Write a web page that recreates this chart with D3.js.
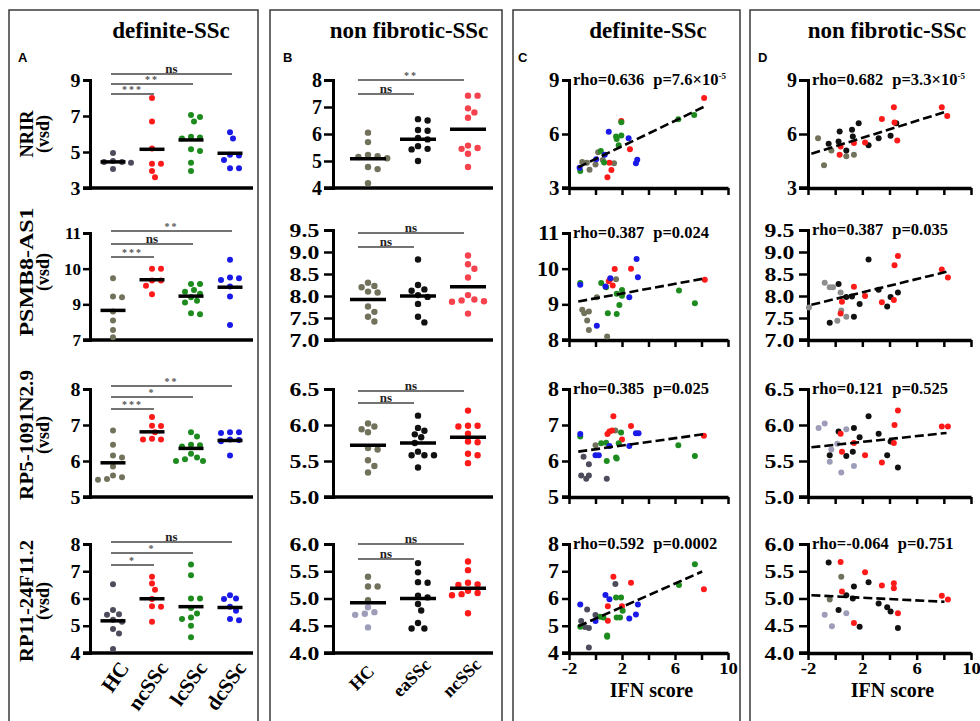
<!DOCTYPE html>
<html>
<head>
<meta charset="utf-8">
<script src="https://cdn.jsdelivr.net/npm/d3@7"></script>
<style>
  body { margin: 0; background: #fff; }
  text { font-family: "Liberation Serif", "Times New Roman", serif; font-weight: bold; }
</style>
</head>
<body>
<div id="chart"></div>
<script>
// ---- data ----
const genes = ["NRIR", "PSMB8-AS1", "RP5-1091N2.9", "RP11-24F11.2"];
const groupsA = ["HC", "ncSSc", "lcSSc", "dcSSc"];
const groupsB = ["HC", "eaSSc", "ncSSc"];

// panel A, values per group [HC, ncSSc, lcSSc, dcSSc]
const aNRIR = [[4.95, 4.5, 4.45, 4.4, 4.45, 4.05],
               [8.0, 6.7, 5.2, 4.35, 4.35, 3.95, 3.6],
               [7.05, 6.95, 6.7, 5.85, 5.8, 5.75, 5.15, 5.05, 4.4, 3.95],
               [6.1, 5.75, 4.85, 4.8, 4.55, 4.1, 4.1]];
const aPSMB8 = [[9.73, 9.22, 9.2, 8.8, 8.55, 8.28, 8.08],
                [10.0, 10.0, 9.67, 9.67, 9.52, 9.28],
                [9.57, 9.57, 9.4, 9.35, 9.3, 9.2, 9.1, 9.05, 8.75, 8.72],
                [10.25, 9.75, 9.73, 9.68, 9.5, 9.22, 8.42]];
const aRP5 = [[6.85, 6.45, 6.15, 6.1, 5.85, 5.6, 5.55, 5.5, 5.48],
              [7.22, 6.98, 6.97, 6.8, 6.62, 6.6, 6.6],
              [6.8, 6.68, 6.45, 6.44, 6.4, 6.2, 6.1, 6.05, 6.0, 6.0],
              [6.8, 6.8, 6.78, 6.6, 6.58, 6.55, 6.15]];
const aRP11 = [[6.52, 5.58, 5.42, 5.4, 5.22, 5.15, 4.88, 4.72, 4.15],
               [6.8, 6.55, 6.32, 5.98, 5.72, 5.7, 5.15],
               [7.25, 6.85, 6.0, 6.0, 5.65, 5.45, 5.3, 5.25, 5.0, 4.58],
               [6.12, 6.0, 5.98, 5.7, 5.55, 5.25, 5.2]];
const aMeans = [[4.45, 5.15, 5.67, 4.93], [8.83, 9.69, 9.23, 9.48],
                [5.95, 6.81, 6.35, 6.57], [5.18, 5.99, 5.70, 5.67]];
const aSig = [["***", "**", "ns"], ["***", "ns", "**"], ["***", "*", "**"], ["*", "*", "ns"]];

// panel B, values per group [HC, eaSSc, ncSSc]
const bNRIR = [[6.05, 5.7, 5.22, 5.18, 5.15, 5.1, 4.78, 4.7, 4.18],
               [6.55, 6.5, 6.15, 6.12, 5.85, 5.8, 5.55, 5.45, 5.43, 5.0],
               [7.42, 7.42, 6.95, 6.8, 6.6, 5.57, 5.48, 5.45, 5.27, 4.78]];
const bPSMB8 = [[8.3, 8.23, 8.2, 8.1, 8.08, 7.76, 7.64, 7.53, 7.42],
                [8.83, 8.25, 8.15, 8.12, 8.02, 7.98, 7.82, 7.53, 7.4],
                [8.92, 8.72, 8.62, 8.42, 8.02, 7.92, 7.9, 7.88, 7.87, 7.6]];
const bRP5 = [[6.02, 5.98, 5.94, 5.9, 5.68, 5.66, 5.51, 5.43, 5.34],
              [6.13, 5.96, 5.92, 5.87, 5.83, 5.75, 5.63, 5.58, 5.58, 5.58, 5.41],
              [6.2, 5.99, 5.99, 5.98, 5.88, 5.77, 5.76, 5.6, 5.58, 5.47]];
const bRP11 = [[5.4, 5.22, 5.22, 4.97, 4.84, 4.72, 4.7, 4.75, 4.47],
               [5.65, 5.48, 5.3, 5.29, 5.05, 5.02, 4.9, 4.78, 4.55, 4.45, 4.45],
               [5.68, 5.52, 5.29, 5.26, 5.25, 5.14, 5.1, 5.08, 5.06, 4.73]];
const bMeans = [[5.08, 5.81, 6.18], [7.92, 8.0, 8.21], [5.72, 5.75, 5.83], [4.92, 5.0, 5.19]];
const bSig = [["ns", "**"], ["ns", "ns"], ["ns", "ns"], ["ns", "ns"]];

// panels C and D: [IFN score, vsd]
const cNRIR = {
  hc: [[-1.0, 4.45], [-0.65, 4.4], [-0.45, 4.02], [0.0, 4.3], [0.2, 4.98], [0.55, 4.55], [1.4, 4.38]],
  nc: [[8.2, 8.0], [1.95, 6.72], [2.6, 5.15], [1.05, 4.4], [1.2, 4.0], [0.9, 3.6]],
  lc: [[7.45, 7.05], [6.25, 6.82], [1.95, 6.65], [1.55, 5.86], [1.95, 5.92], [1.6, 5.72], [1.75, 5.38],
       [0.4, 5.05], [0.65, 4.42], [-1.15, 3.95]],
  dc: [[1.0, 6.12], [2.5, 5.77], [3.15, 4.57], [3.05, 4.38], [0.05, 4.6], [0.7, 4.85], [-1.2, 4.12]]
};
const cPSMB8 = {
  hc: [[-1.0, 8.85], [-0.85, 8.75], [-0.5, 8.8], [-0.63, 8.55], [-0.5, 8.28], [0.1, 9.2], [0.88, 8.1], [1.55, 9.7]],
  nc: [[1.0, 9.65], [1.1, 9.7], [1.3, 9.53], [1.45, 9.99], [2.68, 10.0], [8.25, 9.69]],
  lc: [[-1.15, 9.6], [0.43, 9.6], [0.8, 9.48], [0.93, 8.75], [1.6, 9.3], [1.6, 8.73], [1.8, 8.98],
       [2.0, 9.4], [2.0, 9.24], [6.3, 9.39], [7.5, 9.03]],
  dc: [[-1.15, 9.55], [0.1, 8.4], [0.75, 9.5], [1.12, 9.73], [2.55, 9.2], [3.1, 10.27], [3.2, 9.76]]
};
const cRP5 = {
  hc: [[-1.08, 5.6], [-0.9, 6.12], [-0.7, 5.51], [-0.5, 5.6], [-0.5, 5.91], [0.85, 5.51]],
  hc2: [[0.0, 6.44], [1.5, 6.85]],
  nc: [[0.9, 6.75], [1.05, 6.82], [1.25, 6.85], [1.35, 7.24], [2.0, 6.6], [2.68, 6.97], [8.18, 6.7]],
  lc: [[-1.15, 6.68], [0.43, 6.49], [0.8, 6.51], [0.85, 6.0], [1.55, 6.1], [1.6, 6.07], [1.93, 6.79],
       [1.75, 6.49], [6.25, 6.44], [7.5, 6.14]],
  dc: [[-1.15, 6.75], [0.0, 6.16], [0.25, 6.16], [1.05, 6.42], [2.55, 6.42], [3.05, 6.77], [3.25, 6.77]]
};
const cRP11 = {
  hc: [[-1.08, 5.17], [-0.8, 4.95], [-0.5, 4.92], [-0.63, 5.6], [-0.5, 4.2], [0.0, 5.39], [1.5, 6.53]],
  nc: [[0.93, 5.72], [0.93, 5.18], [1.35, 6.8], [2.0, 5.72], [2.68, 6.58], [8.18, 6.34]],
  lc: [[-1.15, 4.96], [0.35, 5.33], [0.6, 5.3], [0.88, 4.64], [0.88, 4.6], [1.55, 6.04], [1.93, 6.04],
       [1.6, 5.3], [1.85, 5.3], [2.05, 5.55], [6.3, 6.5], [7.5, 7.26]],
  dc: [[-1.15, 5.78], [0.0, 5.17], [0.75, 6.13], [1.05, 5.97], [2.55, 5.27], [3.05, 5.41], [3.2, 5.78]]
};
const dNRIR = {
  hc: [[-1.26, 5.77], [-0.82, 4.26], [-0.28, 5.09], [0.82, 4.76], [1.38, 4.85]],
  ea: [[-0.48, 5.46], [0.25, 5.59], [0.33, 6.14], [0.82, 5.09], [1.24, 6.23], [1.73, 6.6], [1.3, 5.86],
       [2.46, 5.37], [3.2, 5.77], [4.08, 5.9], [4.5, 6.6]],
  nc: [[0.4, 5.31], [0.33, 4.85], [1.38, 5.5], [2.2, 5.53], [3.44, 6.84], [4.32, 7.49], [4.37, 6.64],
       [4.57, 5.64], [7.85, 7.49], [8.25, 7.0]]
};
const dPSMB8 = {
  hc: [[-1.93, 7.74], [-0.77, 8.3], [-0.4, 8.2], [-0.16, 8.2], [0.4, 8.08], [0.45, 7.67], [0.16, 7.44], [0.82, 7.53]],
  ea: [[0.25, 8.27], [0.82, 7.98], [-0.4, 7.39], [1.24, 7.99], [1.38, 7.53], [1.8, 7.82], [2.46, 8.83],
       [3.2, 8.14], [3.83, 7.76], [4.08, 7.98], [4.62, 8.08]],
  nc: [[0.5, 7.87], [0.4, 7.6], [1.38, 8.21], [2.2, 8.0], [3.44, 7.86], [4.32, 7.91], [4.37, 8.7],
       [4.62, 8.91], [7.85, 8.6], [8.3, 8.42]]
};
const dRP5 = {
  hc: [[-1.22, 5.96], [-0.77, 6.02], [-0.4, 5.49], [-0.28, 5.66], [0.16, 5.74], [0.45, 5.34], [0.82, 5.94], [1.38, 5.43]],
  ea: [[-0.4, 5.58], [0.25, 5.91], [0.82, 5.57], [1.38, 5.96], [1.3, 5.63], [1.8, 5.83], [2.46, 6.12],
       [3.2, 5.88], [3.83, 5.58], [4.08, 5.77], [4.62, 5.41]],
  nc: [[0.4, 5.88], [0.5, 5.63], [1.38, 5.75], [2.2, 5.58], [3.44, 5.48], [4.32, 5.75], [4.37, 6.0],
       [4.62, 6.2], [7.85, 5.98], [8.3, 5.98]]
};
const dRP11 = {
  hc: [[-0.77, 4.7], [-0.24, 4.49], [0.82, 4.73]],
  hc2: [[0.45, 5.4], [-0.4, 4.98]],
  ea: [[-0.48, 5.66], [0.25, 4.79], [0.82, 5.06], [1.38, 5.22], [1.3, 5.0], [1.8, 4.48], [2.46, 5.3],
       [3.2, 4.91], [3.83, 4.84], [4.08, 4.76], [4.62, 4.46]],
  nc: [[0.4, 5.67], [0.5, 5.13], [1.38, 4.55], [2.2, 5.48], [3.44, 5.24], [4.32, 5.28], [4.32, 5.19],
       [4.62, 4.73], [7.85, 5.05], [8.3, 4.98]]
};
// dashed fit lines, end points
const cFits = [[[-1.3, 4.15], [8.3, 7.55]], [[-1.3, 9.08], [8.3, 9.73]],
               [[-1.3, 6.26], [8.3, 6.75]], [[-1.3, 4.98], [8.05, 6.99]]];
const dFits = [[[-1.75, 4.9], [8.2, 7.25]], [[-1.75, 7.8], [8.2, 8.55]],
               [[-1.75, 5.69], [8.2, 5.89]], [[-1.75, 5.06], [8.05, 4.94]]];
const cStats = [["0.636", "7.6×10", "-5"], ["0.387", "0.024"], ["0.385", "0.025"], ["0.592", "0.0002"]];
const dStats = [["0.682", "3.3×10", "-5"], ["0.387", "0.035"], ["0.121", "0.525"], ["-0.064", "0.751"]];

// axis domains and ticks per row
const domA = [[3, 9], [8, 11], [5, 8], [4, 8]];
const ticksA = [[3, 5, 7, 9], [8, 9, 10, 11], [5, 6, 7, 8], [4, 5, 6, 7, 8]];
const tickLabelsA = [["3", "5", "7", "9"], ["7", "9", "10", "11"], ["5", "6", "7", "8"], ["4", "5", "6", "7", "8"]];
const domB = [[4, 8], [7, 9.5], [5, 6.5], [4, 6]];
const domC = [[3, 9], [8, 11], [5, 8], [4, 8]];
const ticksC = [[3, 6, 9], [8, 9, 10, 11], [5, 6, 7, 8], [4, 5, 6, 7, 8]];
const domD = [[3, 9], [7, 9.5], [5, 6.5], [4, 6]];
const ticksD = [[3, 6, 9], null, null, null];
const ifnTicks = [-2, 0, 2, 4, 6, 8, 10];
const ifnLabels = [-2, 2, 6, 10];

// ---- styles / layout ----
const tone = {
  olive: "#72725c", slate: "#4c4c5c", grey: "#8d8d8d", lav: "#9d9db9",
  red: "#ff1a1a", pink: "#f5424c", green: "#1d8b1d", blue: "#1a1ae8", black: "#111111"
};
const toneA = [["slate", "red", "green", "blue"], ["olive", "red", "green", "blue"],
               ["olive", "red", "green", "blue"], ["slate", "red", "green", "blue"]];
const toneB = [["olive", "black", "pink"], ["olive", "black", "pink"], ["olive", "black", "red"], ["olive", "black", "red"]];
const bRP11HcTone = ["olive", "olive", "olive", "olive", "lav", "lav", "lav", "lav", "lav"];
const toneC = [{ hc: "olive" }, { hc: "olive" }, { hc: "slate", hc2: "olive" }, { hc: "slate" }];
const toneD = [{ hc: "olive" }, { hc: "grey" }, { hc: "lav" }, { hc: "lav", hc2: "olive" }];
const seriesTone = { nc: "red", lc: "green", dc: "blue", ea: "black" };

const rowBottom = [188, 340, 497, 653];
const rowTopA = [80, 233, 389, 544];
const rowTopB = [80, 230, 389, 544];
const labelCy = [134, 272, 435, 601];
const labelLen = [47, 129, 130, 122];
// tick label font size and horizontal stretch per row
const tickFontA = [[19, 1.05], [17, 1.0], [19, 1.05], [19, 1.05]];
const tickFontB = [[20, 1.0], [19, 1.25], [19, 1.25], [19, 1.25]];
const tickFontC = [[20, 1.05], [20, 1.1], [20, 1.1], [20, 1.1]];
const tickFontD = [[20, 1.0], [19, 1.25], [19, 1.25], [19, 1.25]];
const sigYA = [[94, 84, 74], [257, 244, 231], [409, 397, 386], [565, 553, 542]];
const sigYB = [[94, 80], [247, 233], [403, 391], [559, 544]];

const W = 980, H = 721;
const svg = d3.select("#chart").append("svg")
  .attr("width", W).attr("height", H)
  .style("background", "#fff");

// column frames
[[9, 258], [270, 502], [513, 740], [750, 995]].forEach(([x0, x1]) => {
  svg.append("rect").attr("x", x0).attr("y", 10).attr("width", x1 - x0).attr("height", H)
    .attr("fill", "none").attr("stroke", "#3a3a3a").attr("stroke-width", 1.5);
});

// titles and panel letters
[["definite-SSc", 171], ["non fibrotic-SSc", 409], ["definite-SSc", 648], ["non fibrotic-SSc", 887]]
  .forEach(([t, cx]) => {
    svg.append("text").attr("x", cx).attr("y", 38).attr("text-anchor", "middle")
      .style("font-size", "23px").text(t);
  });
[["A", 18], ["B", 283], ["C", 518], ["D", 758]].forEach(([t, x]) => {
  svg.append("text").attr("x", x).attr("y", 62)
    .style("font-family", "Arial, 'Liberation Sans', sans-serif").style("font-size", "13px").text(t);
});

function styleYAxis(g, f) {
  g.select(".domain").attr("stroke-width", 3).attr("stroke", "#000");
  g.selectAll(".tick line").attr("stroke-width", 2.5).attr("stroke", "#000");
  g.selectAll(".tick text").style("font-size", f[0] + "px").attr("fill", "#000")
    .style("font-family", "'Liberation Serif', 'Times New Roman', serif").style("font-weight", "bold")
    .attr("transform", f[1] !== 1 ? `scale(${f[1]},1)` : null);
}

// simple swarm: spreads dots with close values sideways, deterministic
function swarm(vals, y, cx, r) {
  const placed = [];
  const out = new Array(vals.length);
  vals.map((v, i) => ({ v, i })).sort((a, b) => b.v - a.v).forEach(o => {
    const py = y(o.v);
    for (let k = 0; k < 40; k++) {
      const off = k === 0 ? 0 : (k % 2 ? 1 : -1) * Math.ceil(k / 2) * r;
      const px = cx + off;
      if (!placed.some(p => Math.hypot(p[0] - px, p[1] - py) < 2 * r + 0.6)) {
        placed.push([px, py]);
        out[o.i] = [px, py];
        break;
      }
    }
  });
  return out;
}

function dotPanel(opt) {
  const { row, groups, data, means, axisX, xL, xR, xEnd, yTop, dom, ticks, labels, fmt, fs,
          tick, toneRow, hcTones, sig, sigY, sigTo, hw, r } = opt;
  const x = d3.scalePoint().domain(groups).range([xL, xR]);
  const y = d3.scaleLinear().domain(dom).range([rowBottom[row], yTop]);
  const g = svg.append("g");

  const ax = d3.axisLeft(y).tickSizeOuter(0).tickSize(tick).tickPadding(2);
  if (ticks) ax.tickValues(ticks);
  else ax.ticks(Math.round((dom[1] - dom[0]) / 0.5));
  if (labels) ax.tickFormat((d, i) => labels[i]);
  else if (fmt) ax.tickFormat(d3.format(fmt));
  g.append("g").attr("transform", `translate(${axisX},0)`).call(ax).call(styleYAxis, fs);

  g.append("line").attr("x1", axisX - tick).attr("x2", xEnd)
    .attr("y1", rowBottom[row]).attr("y2", rowBottom[row])
    .attr("stroke", "#000").attr("stroke-width", 3.5);

  groups.forEach((grp, gi) => {
    const pos = swarm(data[gi], y, x(grp), r);
    g.selectAll(null).data(data[gi]).enter().append("circle")
      .attr("cx", (d, i) => pos[i][0]).attr("cy", (d, i) => pos[i][1]).attr("r", r)
      .attr("fill", (d, i) => tone[(gi === 0 && hcTones) ? hcTones[i] : toneRow[gi]]);
    g.append("line").attr("x1", x(grp) - hw).attr("x2", x(grp) + hw)
      .attr("y1", y(means[gi])).attr("y2", y(means[gi]))
      .attr("stroke", "#000").attr("stroke-width", 3.5);
  });

  sig.forEach((s, si) => {
    const x0 = x(groups[0]) + sigTo[0], x1 = x(groups[si + 1]) + sigTo[1];
    g.append("line").attr("x1", x0).attr("x2", x1).attr("y1", sigY[si]).attr("y2", sigY[si])
      .attr("stroke", "#444").attr("stroke-width", 1.3);
    const star = s !== "ns";
    g.append("text").attr("x", (x0 + x1) / 2).attr("y", sigY[si] - (star ? 1 : 1.5))
      .attr("text-anchor", "middle")
      .style("font-size", star ? "10px" : "13px")
      .style("letter-spacing", star ? "2px" : "0px")
      .attr("fill", star ? "#555" : "#222")
      .text(s);
  });
}

function scatterPanel(opt) {
  const { row, data, tones, axisX, xMax, yTop, dom, ticks, fit, stats, fs, tick } = opt;
  const x = d3.scaleLinear().domain([-2, 10]).range([axisX, xMax]);
  const y = d3.scaleLinear().domain(dom).range([rowBottom[row], yTop]);
  const g = svg.append("g");

  const ax = d3.axisLeft(y).tickSizeOuter(0).tickSize(tick).tickPadding(2);
  if (ticks) ax.tickValues(ticks).tickFormat(d3.format("d"));
  else ax.ticks(Math.round((dom[1] - dom[0]) / 0.5)).tickFormat(d3.format(".1f"));
  g.append("g").attr("transform", `translate(${axisX},0)`).call(ax).call(styleYAxis, fs);

  const bx = d3.axisBottom(x).tickValues(ifnTicks).tickSize(7).tickSizeOuter(0).tickPadding(2)
    .tickFormat(d => (row === 3 && ifnLabels.includes(d)) ? d : "");
  const xg = g.append("g").attr("transform", `translate(0,${rowBottom[row]})`).call(bx);
  xg.select(".domain").attr("stroke-width", 3.5).attr("stroke", "#000");
  xg.selectAll(".tick line").attr("stroke-width", 2.5).attr("stroke", "#000");
  xg.selectAll(".tick text").style("font-size", "17px").attr("fill", "#000")
    .style("font-family", "'Liberation Serif', 'Times New Roman', serif").style("font-weight", "bold")
    .attr("transform", "scale(1.1,1)");
  g.append("line").attr("x1", axisX - tick).attr("x2", axisX).attr("y1", rowBottom[row]).attr("y2", rowBottom[row])
    .attr("stroke", "#000").attr("stroke-width", 3.5);

  Object.keys(data).forEach(k => {
    const c = tone[tones[k] || seriesTone[k]];
    g.selectAll(null).data(data[k]).enter().append("circle")
      .attr("cx", d => x(d[0])).attr("cy", d => y(d[1])).attr("r", 3).attr("fill", c);
  });

  g.append("path").datum(fit)
    .attr("d", d3.line().x(d => x(d[0])).y(d => y(d[1])))
    .attr("fill", "none").attr("stroke", "#000").attr("stroke-width", 2.6)
    .attr("stroke-dasharray", "9,4");

  const t = g.append("text").attr("x", axisX + 4).attr("y", yTop + 5).style("font-size", "16.5px");
  t.append("tspan").text(`rho=${stats[0]}`);
  t.append("tspan").attr("dx", 9).text(`p=${stats[1]}`);
  if (stats[2]) t.append("tspan").attr("dy", -6).style("font-size", "9px").text(stats[2]);

  if (row === 3) {
    g.append("text").attr("x", (axisX + xMax) / 2 + 3).attr("y", 697).attr("text-anchor", "middle")
      .style("font-size", "20px").text("IFN score");
  }
}

const aData = [aNRIR, aPSMB8, aRP5, aRP11];
const bData = [bNRIR, bPSMB8, bRP5, bRP11];
const cData = [cNRIR, cPSMB8, cRP5, cRP11];
const dData = [dNRIR, dPSMB8, dRP5, dRP11];

for (let row = 0; row < 4; row++) {
  dotPanel({
    row, groups: groupsA, data: aData[row], means: aMeans[row], axisX: 90, xL: 113, xR: 230, xEnd: 253,
    yTop: rowTopA[row], dom: domA[row], ticks: ticksA[row], labels: tickLabelsA[row], fs: tickFontA[row],
    tick: 7, toneRow: toneA[row], sig: aSig[row], sigY: sigYA[row], sigTo: [-2, 2], hw: 12.5, r: 3
  });
  dotPanel({
    row, groups: groupsB, data: bData[row], means: bMeans[row], axisX: 333, xL: 368, xR: 468, xEnd: 493,
    yTop: rowTopB[row], dom: domB[row], ticks: row === 0 ? [4, 5, 6, 7, 8] : null, fs: tickFontB[row],
    tick: 9, fmt: row === 0 ? "d" : ".1f", toneRow: toneB[row], hcTones: row === 3 ? bRP11HcTone : null,
    sig: bSig[row], sigY: sigYB[row], sigTo: [-10, -4], hw: 18, r: 3.2
  });
  scatterPanel({
    row, data: cData[row], tones: toneC[row], axisX: 569, xMax: 728, fs: tickFontC[row], tick: 7,
    yTop: rowTopA[row], dom: domC[row], ticks: ticksC[row], fit: cFits[row], stats: cStats[row]
  });
  scatterPanel({
    row, data: dData[row], tones: toneD[row], axisX: 808, xMax: 971, fs: tickFontD[row], tick: 9,
    yTop: rowTopB[row], dom: domD[row], ticks: ticksD[row], fit: dFits[row], stats: dStats[row]
  });

  // gene labels on the left
  const lab = svg.append("text").attr("text-anchor", "middle").style("font-size", "18px")
    .attr("transform", `translate(33,${labelCy[row]}) rotate(-90)`);
  lab.append("tspan").attr("x", 0).attr("y", 0)
    .attr("textLength", labelLen[row]).attr("lengthAdjust", "spacingAndGlyphs").text(genes[row]);
  lab.append("tspan").attr("x", 0).attr("y", 16)
    .attr("textLength", 38).attr("lengthAdjust", "spacingAndGlyphs").text("(vsd)");
}

// rotated group labels
const gxA = d3.scalePoint().domain(groupsA).range([113, 230]);
groupsA.forEach(gname => {
  svg.append("text").attr("text-anchor", "end").style("font-size", "21px")
    .attr("transform", `translate(${gxA(gname) + 17},668) rotate(-55)`).text(gname);
});
const gxB = d3.scalePoint().domain(groupsB).range([368, 468]);
groupsB.forEach(gname => {
  svg.append("text").attr("text-anchor", "middle").style("font-size", "18px")
    .attr("transform", `translate(${gxB(gname) - 2},682) rotate(-45)`).text(gname);
});
</script>
</body>
</html>
